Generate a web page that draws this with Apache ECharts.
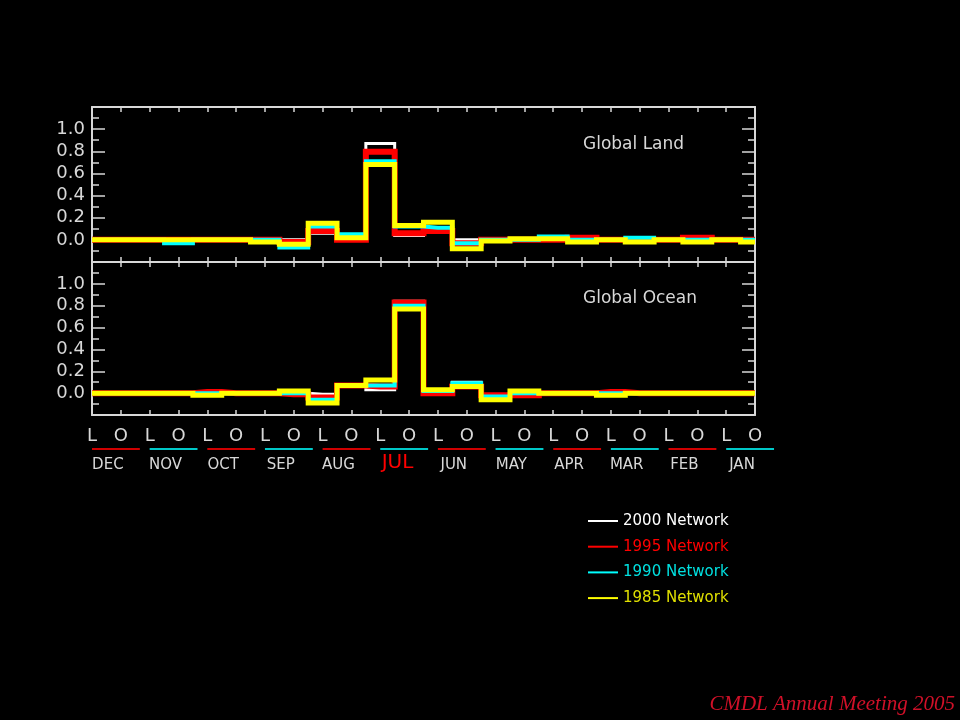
<!DOCTYPE html>
<html><head><meta charset="utf-8">
<script src="https://cdn.jsdelivr.net/npm/echarts@6/dist/echarts.min.js"></script>
<style>html,body{margin:0;padding:0;background:#000}#c{width:960px;height:720px}</style>
</head><body><div id="c"></div>
<script>
// ---------- data ----------
const binLabels = ['L','O','L','O','L','O','L','O','L','O','L','O','L','O','L','O','L','O','L','O','L','O','L','O'];
const months = ['DEC','NOV','OCT','SEP','AUG','JUL','JUN','MAY','APR','MAR','FEB','JAN'];
const highlightMonth = 'JUL';
const networks = ['2000 Network','1995 Network','1990 Network','1985 Network'];
const yTicks = [0.0, 0.2, 0.4, 0.6, 0.8, 1.0];
const panelTitles = ['Global Land','Global Ocean'];
const footer = 'CMDL Annual Meeting 2005';

// Global Land (top panel), one value per L/O bin
const land2000 = [0,0,0,0,0,0,0,0.00,0.06,0.03,0.87,0.04,0.07,0.00,0,0,0,0.01,0,0,0,0.01,0,0.01];
const land1995 = [0,0,0,0,0,0,0,-0.02,0.08,0.00,0.795,0.06,0.08,-0.03,0,0,0,0.02,0,0,0,0.02,0,0];
const land1990 = [0,0,0,-0.03,0,0,0,-0.07,0.12,0.05,0.71,0.12,0.11,-0.03,0,0,0.03,0,0,0.02,0,0,0,0];
const land1985 = [0,0,0,0,0,0,-0.02,-0.04,0.15,0.02,0.68,0.13,0.16,-0.08,-0.01,0.01,0.01,-0.02,0,-0.02,0,-0.02,0,-0.02];

// Global Ocean (bottom panel)
const ocean2000 = [0,0,0,0,0,0,0,0,-0.01,0.07,0.03,0.84,0.02,0.10,-0.02,0,0,0,0,0,0,0,0,0];
const ocean1995 = [0,0,0,0,0.01,0,0,-0.01,-0.04,0.07,0.06,0.83,0.00,0.06,-0.02,-0.02,0,0,0.01,0,0,0,0,0];
const ocean1990 = [0,0,0,0,0,0,0,0,-0.06,0.07,0.07,0.80,0.02,0.09,-0.03,0,0,0,0,0,0,0,0,0];
const ocean1985 = [0,0,0,0,-0.02,0,0,0.02,-0.09,0.07,0.12,0.77,0.03,0.06,-0.06,0.02,0,0,-0.02,0,0,0,0,0];

// ---------- styles ----------
const AX = '#d8d8d8';
const FONT = 'DejaVu Sans';
const colors = ['#ffffff','#ff0000','#00ffff','#ffff00'];
const legendTextColors = ['#ffffff','#ff0000','#00e0e0','#e0e000'];
const widths = [3,6,4,5];

function xAx(grid, pos, labels) {
  return {type:'value', gridIndex:grid, position:pos, min:0, max:binLabels.length-1, interval:1,
    axisLine:{show:true, onZero:false, lineStyle:{color:AX, width:2}},
    axisTick:{show:true, inside:true, length:5, lineStyle:{color:AX, width:1.5}},
    axisLabel:{show:labels, margin:12, color:AX, fontFamily:FONT, fontSize:18,
      formatter:v => binLabels[Math.round(v)] || ''},
    splitLine:{show:false}};
}
function yAx(grid, pos, labels) {
  return {type:'value', gridIndex:grid, position:pos, min:-0.2, max:1.2, interval:0.2,
    axisLine:{show:true, onZero:false, lineStyle:{color:AX, width:2}},
    axisTick:{show:true, inside:true, length:13, lineStyle:{color:AX, width:1.5}},
    minorTick:{show:true, splitNumber:2, length:7, lineStyle:{color:AX, width:1.5}},
    axisLabel:{show:labels, margin:7, color:AX, fontFamily:FONT, fontSize:18,
      formatter:v => { const r = Math.round(v*10)/10; return yTicks.some(t=>Math.abs(t-r)<1e-6) ? Math.abs(r).toFixed(1) : ''; }},
    splitLine:{show:false}, minorSplitLine:{show:false}};
}

const landData = [land2000, land1995, land1990, land1985];
const oceanData = [ocean2000, ocean1995, ocean1990, ocean1985];
const series = [];
[landData, oceanData].forEach((set, p) => {
  set.forEach((arr, i) => {
    series.push({type:'line', name:networks[i], step:'middle', xAxisIndex:p*2, yAxisIndex:p*2,
      data: arr.map((v, k) => [k, v]), showSymbol:false, symbol:'none', silent:true,
      z: 2 + i,
      lineStyle:{color:colors[i], width:widths[i], cap:'butt', join:'miter'},
      itemStyle:{color:colors[i]}});
  });
});

const option = {
  backgroundColor:'#000',
  animation:false,
  grid:[
    {left:92, right:205, top:107, height:155},
    {left:92, right:205, top:262, height:153}
  ],
  xAxis:[xAx(0,'bottom',false), xAx(0,'top',false), xAx(1,'bottom',true), xAx(1,'top',false)],
  yAxis:[yAx(0,'left',true), yAx(0,'right',false), yAx(1,'left',true), yAx(1,'right',false)],
  legend:{orient:'vertical', left:583, top:507, itemWidth:30, itemHeight:2, itemGap:7.7, icon:'rect',
    selectedMode:false,
    textStyle:{fontFamily:FONT, fontSize:15, lineHeight:18, padding:[0,0,0,0]},
    data: networks.map((n,i)=>({name:n, textStyle:{color:legendTextColors[i]}}))},
  series: series
};

const chart = echarts.init(document.getElementById('c'), null, {renderer:'canvas'});
chart.setOption(option);

const g = [];
months.forEach((m, k) => {
  const x0 = chart.convertToPixel({xAxisIndex:2}, 2*k);
  const x1 = chart.convertToPixel({xAxisIndex:2}, 2*k + 1.66);
  const isHi = m === highlightMonth;
  const xc = chart.convertToPixel({xAxisIndex:2}, 2*k + (isHi ? 0.6 : 0.55));
  g.push({type:'line', silent:true, shape:{x1:x0, y1:449, x2:x1, y2:449},
    style:{stroke: k % 2 ? '#00c8c8' : '#d00000', lineWidth:2}});
  g.push({type:'text', silent:true, x:xc, y: isHi ? 463 : 465,
    style:{text:m, fill: isHi ? '#ff0000' : AX, fontFamily:FONT, fontSize: isHi ? 20 : 15,
      align:'center', verticalAlign:'middle'}});
});
g.push({type:'text', silent:true, x:583, y:145, style:{text:panelTitles[0], fill:AX, fontFamily:FONT, fontSize:17, align:'left', verticalAlign:'middle'}});
g.push({type:'text', silent:true, x:583, y:299, style:{text:panelTitles[1], fill:AX, fontFamily:FONT, fontSize:17, align:'left', verticalAlign:'middle'}});
g.push({type:'text', silent:true, x:955, y:704, style:{text:footer, fill:'#d01028', fontFamily:'Liberation Serif', fontStyle:'italic', fontSize:21, align:'right', verticalAlign:'middle'}});
chart.setOption({graphic:g});
</script>
</body></html>
